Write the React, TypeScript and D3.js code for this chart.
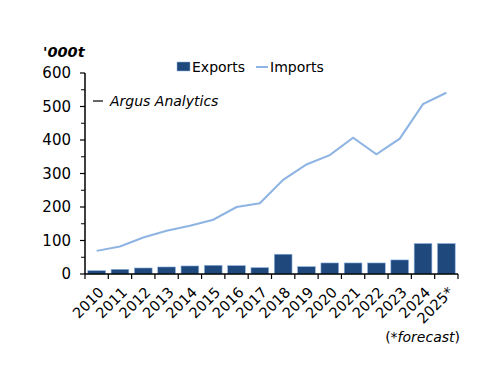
import React from 'react';
import * as d3 from 'd3';

const years = ['2010', '2011', '2012', '2013', '2014', '2015', '2016', '2017', '2018', '2019', '2020', '2021', '2022', '2023', '2024', '2025*'];
const exportsKt = [10, 14, 18, 21, 24, 26, 25, 19, 59, 22, 33, 33, 33, 42, 91, 91];
const importsKt = [69, 82, 109, 129, 144, 162, 200, 211, 281, 327, 355, 407, 357, 404, 507, 541];
const yTicks = [0, 100, 200, 300, 400, 500, 600];
const yMinor = [50, 150, 250, 350, 450, 550];

const FONT = '"DejaVu Sans", "Open Sans", sans-serif';

const App: React.FC = () => {
  const width = 500;
  const height = 386;
  const left = 85;
  const right = 458;
  const top = 73;
  const bottom = 274;

  const x = d3.scaleBand<string>().domain(years).range([left, right]).paddingInner(0.24).paddingOuter(0.12);
  const xc = (y: string) => (x(y) ?? 0) + x.bandwidth() / 2;
  const step = (right - left) / years.length;
  const y = d3.scaleLinear().domain([0, 600]).range([bottom, top]);

  const line = d3.line<number>()
    .x((_, i) => xc(years[i]))
    .y(d => y(d));

  return (
    <svg width={width} height={height} style={{ position: 'absolute', left: 0, top: 0 }} fontFamily={FONT}>
      <rect width={width} height={height} fill="#fff" />

      {/* unit label */}
      <text x={43} y={57} fontSize={14.5} fontWeight="bold" fontStyle="italic">'000t</text>

      {/* legend */}
      <rect x={177} y={62} width={13} height={9} fill="#1f497d" stroke="#8eb4e3" strokeWidth={0.5} />
      <text x={192} y={72} fontSize={14}>Exports</text>
      <line x1={256} x2={268} y1={67} y2={67} stroke="#8db4e2" strokeWidth={2} />
      <text x={270} y={72} fontSize={14}>Imports</text>

      {/* source */}
      <line x1={93} x2={103} y1={101} y2={101} stroke="#000" strokeWidth={1.2} />
      <text x={110} y={106} fontSize={14} fontStyle="italic">Argus Analytics</text>

      {/* y axis */}
      <line x1={left} x2={left} y1={top} y2={bottom} stroke="#000" strokeWidth={1.5} />
      {yTicks.map(t => (
        <g key={t}>
          <line x1={left - 5} x2={left} y1={y(t)} y2={y(t)} stroke="#000" strokeWidth={1.2} />
          <text x={left - 14} y={y(t)} dy="0.36em" textAnchor="end" fontSize={15}>{t}</text>
        </g>
      ))}
      {yMinor.map(t => (
        <line key={t} x1={left - 4} x2={left} y1={y(t)} y2={y(t)} stroke="#000" strokeWidth={1} />
      ))}

      {/* bars */}
      {years.map((yr, i) => (
        <rect
          key={yr}
          x={x(yr)}
          y={y(exportsKt[i])}
          width={x.bandwidth()}
          height={bottom - y(exportsKt[i])}
          fill="#1f497d"
          stroke="#8eb4e3"
          strokeWidth={0.6}
        />
      ))}

      {/* imports line */}
      <path d={line(importsKt) || undefined} fill="none" stroke="#8db4e2" strokeWidth={2} />

      {/* x axis */}
      <line x1={left} x2={right} y1={bottom} y2={bottom} stroke="#000" strokeWidth={1.5} />
      {d3.range(years.length + 1).map(i => (
        <line key={i} x1={left + i * step} x2={left + i * step} y1={bottom} y2={bottom + 5} stroke="#000" strokeWidth={1.2} />
      ))}
      {years.map(yr => (
        <text
          key={yr}
          transform={`translate(${xc(yr) + 1},${bottom + 12}) rotate(-45)`}
          textAnchor="end"
          fontSize={14.5}
          dy="0.7em"
        >
          {yr}
        </text>
      ))}

      <text x={460} y={342} textAnchor="end" fontSize={14}>
        (*<tspan fontStyle="italic">forecast</tspan>)
      </text>
    </svg>
  );
};

export default App;
